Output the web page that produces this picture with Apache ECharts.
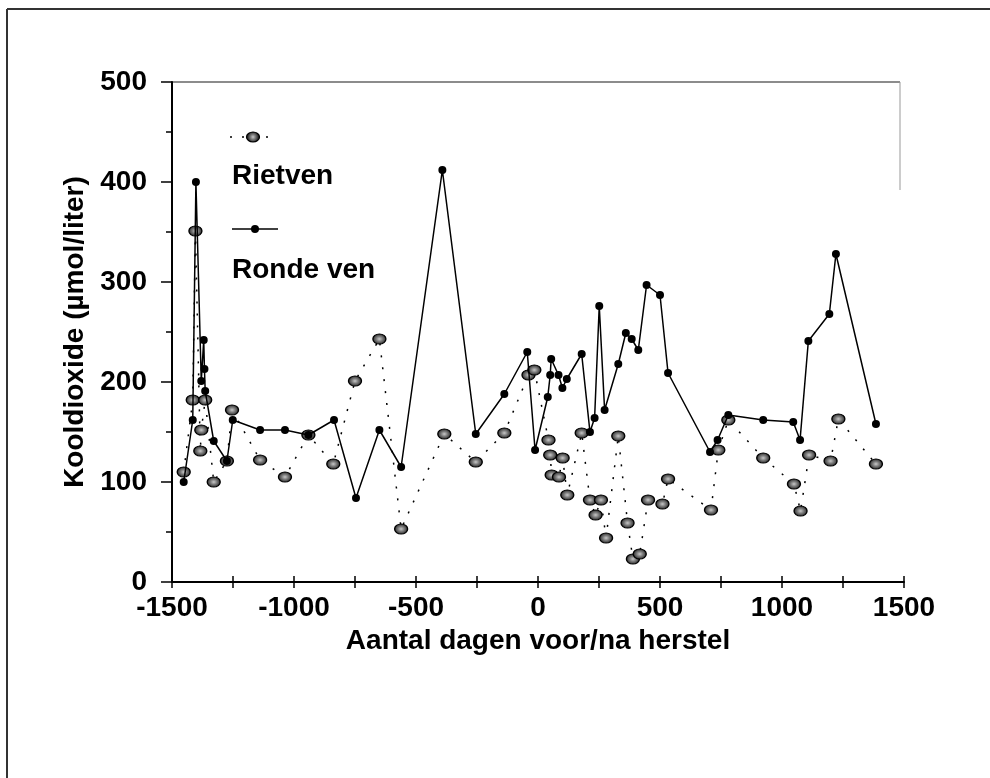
<!DOCTYPE html>
<html>
<head>
<meta charset="utf-8">
<title>Kooldioxide</title>
<script src="https://cdn.jsdelivr.net/npm/echarts@6/dist/echarts.min.js"></script>
<style>
    html, body { margin: 0; padding: 0; background: #fff; }
    #chart { width: 990px; height: 778px; }
</style>
</head>
<body>
<div id="chart"></div>
<script>
// dagen voor/na herstel, kooldioxide (umol/liter)
var rietven = [
    [-1452, 110], [-1415, 182], [-1404, 351], [-1384, 131], [-1380, 152], [-1364, 182],
    [-1329, 100], [-1275, 121], [-1254, 172], [-1139, 122], [-1037, 105], [-941, 147],
    [-839, 118], [-750, 201], [-650, 243], [-561, 53], [-384, 148], [-255, 120],
    [-138, 149], [-39, 207], [-15, 212], [43, 142], [50, 127], [56, 107], [86, 105],
    [101, 124], [120, 87], [179, 149], [213, 82], [236, 67], [258, 82], [279, 44],
    [329, 146], [367, 59], [389, 23], [417, 28], [451, 82], [510, 78], [533, 103],
    [709, 72], [739, 132], [780, 162], [923, 124], [1049, 98], [1076, 71], [1111, 127],
    [1199, 121], [1231, 163], [1385, 118]
];

var rondeVen = [
    [-1452, 100], [-1415, 162], [-1402, 400], [-1380, 201], [-1370, 242], [-1367, 213],
    [-1364, 191], [-1329, 141], [-1275, 121], [-1251, 162], [-1139, 152], [-1037, 152],
    [-941, 147], [-836, 162], [-746, 84], [-650, 152], [-561, 115], [-392, 412],
    [-255, 148], [-138, 188], [-44, 230], [-12, 132], [40, 185], [50, 207], [54, 223],
    [84, 207], [100, 194], [118, 203], [179, 228], [213, 150], [232, 164], [251, 276],
    [273, 172], [329, 218], [360, 249], [384, 243], [411, 232], [445, 297], [500, 287],
    [533, 209], [705, 130], [736, 142], [780, 167], [923, 162], [1046, 160], [1074, 142],
    [1108, 241], [1194, 268], [1221, 328], [1385, 158]
];

var xTicks = [-1500, -1000, -500, 0, 500, 1000, 1500];
var yTicks = [0, 100, 200, 300, 400, 500];
var seriesNames = ['Rietven', 'Ronde ven'];

var font = 'Liberation Sans, Arial, sans-serif';

var chart = echarts.init(document.getElementById('chart'));

/**
 * gestippelde bolletjes (Rietven)
 */
var rietSymbol = {
    type: 'radial', x: 0.5, y: 0.5, r: 0.5,
    colorStops: [
        { offset: 0, color: '#c8c8c8' },
        { offset: 0.45, color: '#7a7a7a' },
        { offset: 1, color: '#222' }
    ]
};

/**
 * x-as, twee keer voor ticks die de as kruisen
 */
function makeXAxis(inside) {
    return {
        type: 'value',
        position: 'bottom',
        min: xTicks[0],
        max: xTicks[xTicks.length - 1],
        interval: 500,
        axisLine: { show: !inside, onZero: false, lineStyle: { color: '#000', width: 2 } },
        axisTick: { show: true, inside: inside, length: 6, lineStyle: { color: '#000', width: 1.5 } },
        minorTick: { show: true, splitNumber: 2, length: 6, lineStyle: { color: '#000', width: 1.5 } },
        splitLine: { show: false },
        axisLabel: {
            show: !inside,
            margin: 12,
            color: '#000',
            fontFamily: font,
            fontWeight: 'bold',
            fontSize: 28,
            formatter: function (v) { return String(v); }
        },
        name: inside ? '' : 'Aantal dagen voor/na herstel',
        nameLocation: 'middle',
        nameGap: 33,
        nameTextStyle: { color: '#000', fontFamily: font, fontWeight: 'bold', fontSize: 28 }
    };
}

var option = {
    backgroundColor: '#fff',
    animation: false,
    grid: { left: 172, right: 86, top: 82, bottom: 196 },
    xAxis: [makeXAxis(false), makeXAxis(true)],
    yAxis: {
        type: 'value',
        min: yTicks[0],
        max: yTicks[yTicks.length - 1],
        interval: 100,
        axisLine: { show: true, onZero: false, lineStyle: { color: '#000', width: 2 } },
        axisTick: { show: true, length: 11, lineStyle: { color: '#000', width: 1.5 } },
        minorTick: { show: true, splitNumber: 2, length: 6, lineStyle: { color: '#000', width: 1.5 } },
        splitLine: { show: false },
        axisLabel: {
            margin: 25,
            color: '#000',
            fontFamily: font,
            fontWeight: 'bold',
            fontSize: 28,
            formatter: function (v) { return String(v); }
        },
        name: 'Kooldioxide (µmol/liter)',
        nameLocation: 'middle',
        nameGap: 78,
        nameTextStyle: { color: '#000', fontFamily: font, fontWeight: 'bold', fontSize: 28 }
    },
    series: [
        {
            name: seriesNames[0],
            type: 'line',
            data: rietven,
            symbol: 'circle',
            symbolSize: [13, 10],
            itemStyle: { color: rietSymbol, borderColor: '#000', borderWidth: 1.2 },
            lineStyle: { color: '#000', width: 1.5, type: [2, 10] },
            z: 3
        },
        {
            name: seriesNames[1],
            type: 'line',
            data: rondeVen,
            symbol: 'circle',
            symbolSize: 8,
            itemStyle: { color: '#000' },
            lineStyle: { color: '#000', width: 1.5 },
            z: 4
        }
    ],
    graphic: [
        // kader van de scan
        { type: 'line', shape: { x1: 7, y1: 9, x2: 990, y2: 9 }, style: { stroke: '#333', lineWidth: 2 } },
        { type: 'line', shape: { x1: 7, y1: 9, x2: 7, y2: 778 }, style: { stroke: '#333', lineWidth: 2 } },
        { type: 'line', shape: { x1: 172, y1: 82, x2: 900, y2: 82 }, style: { stroke: '#666', lineWidth: 1.5 } },
        { type: 'line', shape: { x1: 900, y1: 82, x2: 900, y2: 190 }, style: { stroke: '#999', lineWidth: 1 } },
        // legenda Rietven
        { type: 'line', shape: { x1: 230, y1: 137, x2: 276, y2: 137 }, style: { stroke: '#000', lineWidth: 1.5, lineDash: [2, 10] } },
        { type: 'ellipse', shape: { cx: 253, cy: 137, rx: 6.5, ry: 5 }, style: { fill: rietSymbol, stroke: '#000', lineWidth: 1.2 } },
        { type: 'text', left: 232, top: 162, style: { text: seriesNames[0], fill: '#000', font: 'bold 28px ' + font } },
        // legenda Ronde ven
        { type: 'line', shape: { x1: 232, y1: 229, x2: 278, y2: 229 }, style: { stroke: '#000', lineWidth: 1.5 } },
        { type: 'circle', shape: { cx: 255, cy: 229, r: 4 }, style: { fill: '#000' } },
        { type: 'text', left: 232, top: 256, style: { text: seriesNames[1], fill: '#000', font: 'bold 28px ' + font } }
    ]
};

chart.setOption(option);
</script>
</body>
</html>
